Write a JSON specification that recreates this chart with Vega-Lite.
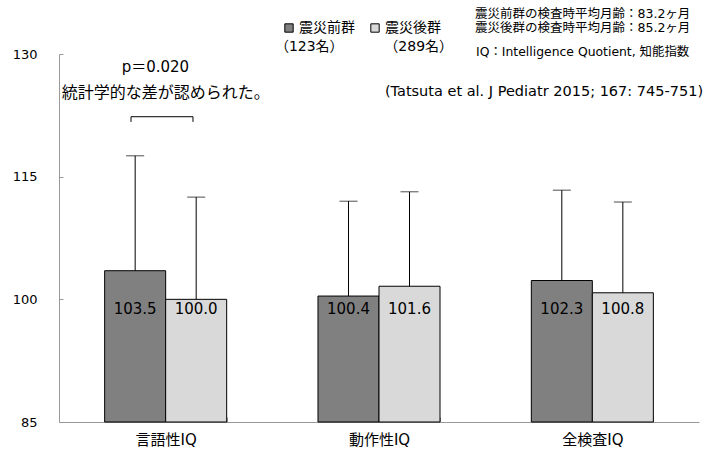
{
  "$schema": "https://vega.github.io/schema/vega-lite/v6.json",
  "width": 640,
  "height": 368,
  "autosize": {"type": "none"},
  "padding": {"left": 59, "top": 54, "right": 10, "bottom": 33},
  "config": {
    "view": {"stroke": null},
    "font": "DejaVu Sans, Noto Sans CJK JP",
    "text": {"font": "DejaVu Sans, Noto Sans CJK JP", "color": "black"}
  },
  "datasets": {
    "iq": [
      {"test": "言語性IQ", "group": "震災前群", "mean": 103.5, "upper": 117.55},
      {"test": "言語性IQ", "group": "震災後群", "mean": 100.0, "upper": 112.5},
      {"test": "動作性IQ", "group": "震災前群", "mean": 100.4, "upper": 112.0},
      {"test": "動作性IQ", "group": "震災後群", "mean": 101.6, "upper": 113.15},
      {"test": "全検査IQ", "group": "震災前群", "mean": 102.3, "upper": 113.35},
      {"test": "全検査IQ", "group": "震災後群", "mean": 100.8, "upper": 111.9}
    ]
  },
  "resolve": {"scale": {"x": "independent"}},
  "layer": [
    {
      "data": {"name": "iq"},
      "encoding": {
        "x": {
          "field": "test", "type": "nominal",
          "sort": ["言語性IQ", "動作性IQ", "全検査IQ"],
          "scale": {"paddingInner": 0.428, "paddingOuter": 0.214},
          "axis": {
            "title": null, "labelAngle": 0, "tickBand": "extent", "tickSize": -5,
            "domainColor": "#999999", "tickColor": "#999999",
            "labelFontSize": 15, "labelColor": "black", "labelPadding": 15
          }
        },
        "xOffset": {
          "field": "group", "type": "nominal",
          "sort": ["震災前群", "震災後群"],
          "scale": {"paddingInner": 0, "paddingOuter": 0}
        }
      },
      "layer": [
        {
          "mark": {"type": "bar", "stroke": "black", "strokeWidth": 1},
          "encoding": {
            "y": {
              "field": "mean", "type": "quantitative",
              "scale": {"domain": [85, 130], "zero": false, "nice": false},
              "axis": {
                "title": null, "values": [85, 100, 115, 130], "grid": false,
                "tickSize": -4, "labelPadding": 26,
                "domainColor": "#999999", "tickColor": "#999999",
                "labelFontSize": 13, "labelColor": "black"
              }
            },
            "y2": {"datum": 85},
            "color": {
              "field": "group", "type": "nominal",
              "scale": {"domain": ["震災前群", "震災後群"], "range": ["#808080", "#d9d9d9"]},
              "legend": {
                "title": null, "orient": "none", "direction": "horizontal",
                "legendX": 223, "legendY": -33, "padding": 0,
                "symbolType": "square", "symbolSize": 70,
                "symbolStrokeColor": "black", "symbolStrokeWidth": 1,
                "labelFontSize": 14, "labelColor": "black", "labelOffset": 3,
                "columnPadding": 13
              }
            }
          }
        },
        {
          "mark": {"type": "rule", "color": "black", "strokeWidth": 1},
          "encoding": {
            "y": {"field": "mean", "type": "quantitative"},
            "y2": {"field": "upper"}
          }
        },
        {
          "mark": {"type": "tick", "color": "black", "size": 18, "thickness": 1},
          "encoding": {
            "y": {"field": "upper", "type": "quantitative"}
          }
        },
        {
          "mark": {"type": "text", "fontSize": 15},
          "encoding": {
            "y": {"datum": 98.8, "type": "quantitative"},
            "text": {"field": "mean", "type": "quantitative", "format": ".1f"}
          }
        }
      ]
    },
    {
      "data": {"values": [{}]},
      "layer": [
        {
          "mark": {"type": "text", "fontSize": 14, "align": "left"},
          "encoding": {
            "x": {"datum": 1.012, "type": "quantitative", "scale": {"domain": [0, 3], "nice": false, "zero": false}, "axis": null},
            "y": {"datum": 130.85, "type": "quantitative"},
            "text": {"value": "（123名）"}
          }
        },
        {
          "mark": {"type": "text", "fontSize": 14, "align": "left"},
          "encoding": {
            "x": {"datum": 1.525, "type": "quantitative"},
            "y": {"datum": 130.85, "type": "quantitative"},
            "text": {"value": "（289名）"}
          }
        },
        {
          "mark": {"type": "text", "fontSize": 12.5, "align": "left"},
          "encoding": {
            "x": {"datum": 1.95, "type": "quantitative"},
            "y": {"datum": 134.95, "type": "quantitative"},
            "text": {"value": "震災前群の検査時平均月齢：83.2ヶ月"}
          }
        },
        {
          "mark": {"type": "text", "fontSize": 12.5, "align": "left"},
          "encoding": {
            "x": {"datum": 1.95, "type": "quantitative"},
            "y": {"datum": 133.24, "type": "quantitative"},
            "text": {"value": "震災後群の検査時平均月齢：85.2ヶ月"}
          }
        },
        {
          "mark": {"type": "text", "fontSize": 12.4, "align": "left"},
          "encoding": {
            "x": {"datum": 1.955, "type": "quantitative"},
            "y": {"datum": 130.24, "type": "quantitative"},
            "text": {"value": "IQ：Intelligence Quotient, 知能指数"}
          }
        },
        {
          "mark": {"type": "text", "fontSize": 14.5, "align": "right"},
          "encoding": {
            "x": {"datum": 3.019, "type": "quantitative"},
            "y": {"datum": 125.3, "type": "quantitative"},
            "text": {"value": "(Tatsuta et al. J Pediatr 2015; 167: 745-751)"}
          }
        },
        {
          "mark": {"type": "text", "fontSize": 15, "align": "center"},
          "encoding": {
            "x": {"datum": 0.452, "type": "quantitative"},
            "y": {"datum": 128.47, "type": "quantitative"},
            "text": {"value": "p＝0.020"}
          }
        },
        {
          "mark": {"type": "text", "fontSize": 16, "align": "center"},
          "encoding": {
            "x": {"datum": 0.5, "type": "quantitative"},
            "y": {"datum": 125.2, "type": "quantitative"},
            "text": {"value": "統計学的な差が認められた。"}
          }
        },
        {
          "mark": {"type": "rule", "color": "black", "strokeWidth": 1},
          "encoding": {
            "x": {"datum": 0.3375, "type": "quantitative"},
            "x2": {"datum": 0.628},
            "y": {"datum": 122.33, "type": "quantitative"}
          }
        },
        {
          "mark": {"type": "rule", "color": "black", "strokeWidth": 1},
          "encoding": {
            "x": {"datum": 0.3375, "type": "quantitative"},
            "y": {"datum": 122.33, "type": "quantitative"},
            "y2": {"datum": 121.7}
          }
        },
        {
          "mark": {"type": "rule", "color": "black", "strokeWidth": 1},
          "encoding": {
            "x": {"datum": 0.628, "type": "quantitative"},
            "y": {"datum": 122.33, "type": "quantitative"},
            "y2": {"datum": 121.7}
          }
        }
      ]
    }
  ]
}
